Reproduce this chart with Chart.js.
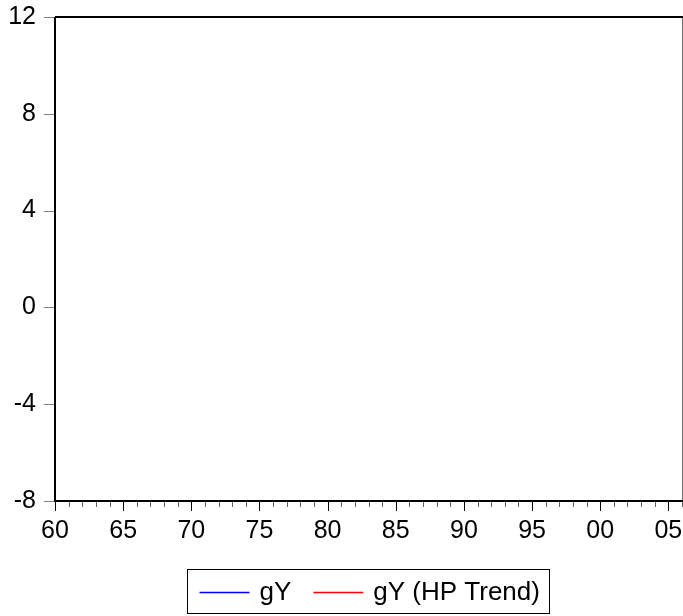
<!DOCTYPE html>
<html>
<head>
<meta charset="utf-8">
<script src="https://cdn.jsdelivr.net/npm/chart.js@4.4.0/dist/chart.umd.min.js"></script>
<style>
  html, body { margin: 0; padding: 0; background: #fff; }
  #wrap { width: 683px; height: 616px; }
</style>
</head>
<body>
<div id="wrap"><canvas id="myChart" width="683" height="616"></canvas></div>
<script>
// years on the x axis (1960 - 2006)
var years = [];
for (var y = 1960; y <= 2006; y++) years.push(y);

// series: nothing is plotted in the reference, so both are empty
var gY = [];
var gYTrend = [];

var seriesNames = ['gY', 'gY (HP Trend)'];
var seriesColors = ['#0000ff', '#ff0000'];

var yTicks = [-8, -4, 0, 4, 8, 12];

var FONT = '"Liberation Sans", Arial, sans-serif';

function toPoints(vals) {
  var pts = [];
  for (var i = 0; i < vals.length; i++) pts.push({ x: years[i], y: vals[i] });
  return pts;
}

// axes frame, tick marks and the boxed legend
var frame = {
  id: 'frame',
  afterDraw: function(chart) {
    var ctx = chart.ctx;
    var a = chart.chartArea;
    var xs = chart.scales.x, ys = chart.scales.y;
    ctx.save();

    // y tick marks (outside, grey)
    ctx.strokeStyle = '#808080';
    ctx.lineWidth = 1;
    yTicks.forEach(function(v) {
      var py = Math.round(ys.getPixelForValue(v)) + 0.5;
      ctx.beginPath();
      ctx.moveTo(a.left - 11, py);
      ctx.lineTo(a.left - 1, py);
      ctx.stroke();
    });

    // x tick marks: every year, longer every 5
    years.forEach(function(yr) {
      var px = Math.round(xs.getPixelForValue(yr)) + 0.5;
      var major = yr % 5 === 0;
      ctx.strokeStyle = major ? '#000' : '#606060';
      ctx.beginPath();
      ctx.moveTo(px, a.bottom);
      ctx.lineTo(px, a.bottom + (major ? 10 : 6));
      ctx.stroke();
    });

    // right border (thin grey)
    ctx.strokeStyle = '#707070';
    ctx.lineWidth = 1;
    ctx.beginPath();
    ctx.moveTo(a.right + 0.5, a.top);
    ctx.lineTo(a.right + 0.5, a.bottom);
    ctx.stroke();

    // left, top, bottom borders (thick black)
    ctx.strokeStyle = '#000';
    ctx.lineWidth = 2;
    ctx.beginPath();
    ctx.moveTo(a.left, a.top);
    ctx.lineTo(a.right + 1, a.top);
    ctx.moveTo(a.left, a.top);
    ctx.lineTo(a.left, a.bottom + 1);
    ctx.moveTo(a.left - 1, a.bottom);
    ctx.lineTo(a.right + 1, a.bottom);
    ctx.stroke();

    // legend
    ctx.font = '26px ' + FONT;
    ctx.textBaseline = 'middle';
    ctx.textAlign = 'left';
    var lineLen = 50, gapText = 10, gapItem = 22, padL = 12, padR = 10;
    var widths = seriesNames.map(function(s) { return ctx.measureText(s).width; });
    var total = padL + padR;
    widths.forEach(function(w, i) {
      total += lineLen + gapText + w + (i > 0 ? gapItem : 0);
    });
    var bx = Math.round(368.5 - total / 2) + 0.5;
    var by = 569.5, bh = 44;
    ctx.strokeStyle = '#000';
    ctx.lineWidth = 1;
    ctx.strokeRect(bx, by, Math.round(total), bh);
    var cx = bx + padL, cy = 592.5;
    seriesNames.forEach(function(s, i) {
      if (i > 0) cx += gapItem;
      ctx.strokeStyle = seriesColors[i];
      ctx.lineWidth = 1.5;
      ctx.beginPath();
      ctx.moveTo(cx, cy);
      ctx.lineTo(cx + lineLen, cy);
      ctx.stroke();
      cx += lineLen + gapText;
      ctx.fillStyle = '#000';
      ctx.fillText(s, cx, cy);
      cx += widths[i];
    });

    ctx.restore();
  }
};

var ctx = document.getElementById('myChart').getContext('2d');
var myChart = new Chart(ctx, {
  type: 'line',
  data: {
    datasets: [
      { label: seriesNames[0], data: toPoints(gY), borderColor: seriesColors[0], borderWidth: 1, pointRadius: 0, fill: false },
      { label: seriesNames[1], data: toPoints(gYTrend), borderColor: seriesColors[1], borderWidth: 1, pointRadius: 0, fill: false }
    ]
  },
  options: {
    responsive: false,
    animation: false,
    layout: { padding: { left: 0, right: 1, top: 17, bottom: 0 } },
    plugins: {
      legend: { display: false },
      tooltip: { enabled: false }
    },
    scales: {
      x: {
        type: 'linear',
        min: 1960,
        max: 2006,
        border: { display: false },
        grid: { display: false },
        afterBuildTicks: function(scale) {
          scale.ticks = years.map(function(v) { return { value: v }; });
        },
        afterFit: function(scale) {
          scale.height = 115;
          scale.paddingLeft = 0;
          scale.paddingRight = 0;
        },
        ticks: {
          autoSkip: false,
          maxRotation: 0,
          padding: 7,
          color: '#000',
          font: { family: FONT, size: 25 },
          callback: function(v) {
            return v % 5 === 0 ? String(v % 100).padStart(2, '0') : '';
          }
        }
      },
      y: {
        min: -8,
        max: 12,
        border: { display: false },
        grid: { display: false },
        afterBuildTicks: function(scale) {
          scale.ticks = yTicks.map(function(v) { return { value: v }; });
        },
        afterFit: function(scale) {
          scale.width = 55;
          scale.paddingTop = 0;
          scale.paddingBottom = 0;
        },
        ticks: {
          padding: 11,
          color: '#000',
          font: { family: FONT, size: 25 }
        }
      }
    }
  },
  plugins: [frame]
});
</script>
</body>
</html>
